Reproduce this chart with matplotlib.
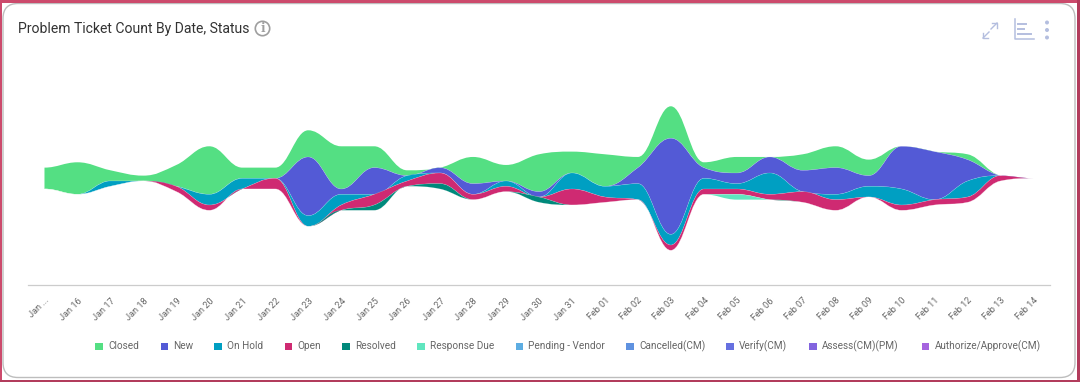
import numpy as np
import matplotlib
matplotlib.use('Agg')
from matplotlib import pyplot as plt
from matplotlib.path import Path
from matplotlib.patches import PathPatch, FancyBboxPatch, Rectangle, Circle

plt.rcParams['font.family'] = ['Roboto', 'DejaVu Sans']

days = ['Jan ...', 'Jan 16', 'Jan 17', 'Jan 18', 'Jan 19', 'Jan 20', 'Jan 21', 'Jan 22',
        'Jan 23', 'Jan 24', 'Jan 25', 'Jan 26', 'Jan 27', 'Jan 28', 'Jan 29', 'Jan 30',
        'Jan 31', 'Feb 01', 'Feb 02', 'Feb 03', 'Feb 04', 'Feb 05', 'Feb 06', 'Feb 07',
        'Feb 08', 'Feb 09', 'Feb 10', 'Feb 11', 'Feb 12', 'Feb 13', 'Feb 14']

closed = [4, 6, 2, 1, 4, 9, 2, 2, 5, 8, 4, 1, 0, 5, 3, 7, 4, 6, 2, 6, 1, 3, 0, 3, 4, 3, 0, 0, 1, 0, 0]
new = [0, 0, 0, 0, 0, 0, 0, 0, 11, 1, 5, 0, 1, 2, 0, 1, 0, 0, 3, 18, 2, 2, 3, 4, 5, 2, 8, 9, 4, 0, 0]
on_hold = [0, 0, 1, 0, 0, 2, 2, 0, 2, 2, 0, 1, 0, 0, 1, 0, 3, 2, 3, 2, 2, 1, 4, 0, 1, 2, 3, 0, 3, 0, 0]
open_ = [0, 0, 0, 0, 1, 1, 0, 2, 0, 1, 2, 1, 2, 1, 1, 0, 3, 1, 0, 1, 1, 1, 1, 2, 2, 0, 1, 1, 1, 1, 0]
resolved = [0, 0, 0, 0, 0, 0, 0, 0, 0, 0, 1, 0, 1, 0, 0, 1, 0, 0, 0, 0, 0, 0, 0, 0, 0, 0, 0, 0, 0, 0, 0]
response_due = [0, 0, 0, 0, 0, 0, 0, 0, 0, 0, 0, 0, 0, 0, 0, 0, 0, 0, 0, 0, 0, 1, 0, 0, 0, 0, 0, 0, 0, 0, 0]

series_names = ['Closed', 'New', 'On Hold', 'Open', 'Resolved', 'Response Due', 'Pending - Vendor',
                'Cancelled(CM)', 'Verify(CM)', 'Assess(CM)(PM)', 'Authorize/Approve(CM)']
series_colors = ['#54DF83', '#535AD6', '#009FC2', '#CF2A72', '#00897B', '#60E6BF', '#5DADE2',
                 '#5F92E0', '#6670E0', '#8264DF', '#A564DF']
legend_box_x = [95, 160.5, 214, 284.5, 342, 417, 515.5, 626, 726, 809, 921.5]


def spline_controls(x, y):
    # same handle rule as an areaspline, so the curve passes through each daily value
    n = len(x)
    left = np.array(y, dtype=float)
    right = np.array(y, dtype=float)
    s = 1.5
    for i in range(1, n - 1):
        lx = (s * x[i] + x[i - 1]) / (s + 1)
        rx = (s * x[i] + x[i + 1]) / (s + 1)
        ly = (s * y[i] + y[i - 1]) / (s + 1)
        ry = (s * y[i] + y[i + 1]) / (s + 1)
        corr = (ry - ly) * (rx - x[i]) / (rx - lx) + y[i] - ry
        ly += corr
        ry += corr
        if ly > y[i - 1] and ly > y[i]:
            ly = max(y[i - 1], y[i])
            ry = 2 * y[i] - ly
        elif ly < y[i - 1] and ly < y[i]:
            ly = min(y[i - 1], y[i])
            ry = 2 * y[i] - ly
        if ry > y[i + 1] and ry > y[i]:
            ry = max(y[i + 1], y[i])
            ly = 2 * y[i] - ry
        elif ry < y[i + 1] and ry < y[i]:
            ry = min(y[i + 1], y[i])
            ly = 2 * y[i] - ry
        left[i] = ly
        right[i] = ry
    return left, right


def curve_points(x, y):
    left, right = spline_controls(x, y)
    pts = []
    for i in range(len(x) - 1):
        lx = (1.5 * x[i + 1] + x[i]) / 2.5
        rx = (1.5 * x[i] + x[i + 1]) / 2.5
        pts.append((rx, right[i]))
        pts.append((lx, left[i + 1]))
        pts.append((x[i + 1], y[i + 1]))
    return pts


def band_path(x, top, bottom):
    verts = [(x[0], top[0])] + curve_points(x, top)
    codes = [Path.MOVETO] + [Path.CURVE4] * (len(verts) - 1)
    verts.append((x[-1], bottom[-1]))
    codes.append(Path.LINETO)
    back = curve_points(x[::-1], bottom[::-1])
    verts += back
    codes += [Path.CURVE4] * len(back)
    verts.append(verts[0])
    codes.append(Path.CLOSEPOLY)
    return Path(verts, codes)


def line_path(x, y):
    verts = [(x[0], y[0])] + curve_points(x, y)
    return Path(verts, [Path.MOVETO] + [Path.CURVE4] * (len(verts) - 1))


W, H = 1080, 382
fig = plt.figure(figsize=(10.8, 3.82), dpi=100, facecolor='white')

# card + crimson frame, in pixels
bg = fig.add_axes([0, 0, 1, 1], zorder=0)
bg.set_xlim(0, W)
bg.set_ylim(H, 0)
bg.axis('off')
bg.add_patch(FancyBboxPatch((3, 3.5), 1072, 374, boxstyle='round,pad=0,rounding_size=15',
                            fc='white', ec='#BDBDBD', lw=1))
bg.add_patch(Rectangle((0, 0), W, 2.7, fc='#CC4A6C', ec='none'))
bg.add_patch(Rectangle((0, 0), 2.4, H, fc='#CC4A6C', ec='none'))
bg.add_patch(Rectangle((1077, 0), 3, H, fc='#B23C5C', ec='none'))
bg.add_patch(Rectangle((0, 379.6), W, 2.4, fc='#B23C5C', ec='none'))

# title and info icon
bg.text(18, 28.5, 'Problem Ticket Count By Date, Status', fontsize=10.05, color='#333333',
        va='center', ha='left')
bg.add_patch(Circle((262.5, 28.5), 7.2, fc='white', ec='#9E9E9E', lw=1.2))
bg.text(262.5, 28.5, 'i', fontsize=8.5, color='#9E9E9E', va='center', ha='center',
        fontweight='bold', family=['DejaVu Serif'])

# top right icons
icon = '#B4BEDF'
bg.plot([983, 989], [38, 32], color=icon, lw=1)
bg.plot([983, 983, 988], [33, 38, 38], color=icon, lw=1)
bg.plot([991, 997], [29, 23], color=icon, lw=1)
bg.plot([992, 997, 997], [23, 23, 28], color=icon, lw=1)
bg.plot([1014.5, 1014.5, 1034], [19, 38.5, 38.5], color=icon, lw=1.1)
bg.plot([1018, 1026], [24, 24], color=icon, lw=1.4)
bg.plot([1018, 1024], [29, 29], color=icon, lw=1.4)
bg.plot([1018, 1031], [34, 34], color=icon, lw=1.4)
for yy in [22.5, 30, 37.5]:
    bg.add_patch(Circle((1047, yy), 2, fc=icon, ec='none'))

# legend row
for name, color, bx in zip(series_names, series_colors, legend_box_x):
    bg.add_patch(Rectangle((bx, 342.5), 7.5, 7.5, fc=color, ec='none'))
    bg.text(bx + 13, 345.8, name, fontsize=7.2, color='#666666', va='center', ha='left')

# chart area
ax = fig.add_axes([28 / W, 1 - 285 / H, 1022 / W, 213.4 / H], zorder=1)
ax.patch.set_alpha(0)
x = np.arange(len(days), dtype=float)
ax.set_xlim(-0.5, 30.5)
ax.set_ylim(-20, 20)

stack = np.array([closed, new, on_hold, open_, resolved, response_due], dtype=float)
total = stack.sum(axis=0)
top = total / 2.0
for i, (values, color) in enumerate(zip(stack, series_colors)):
    bottom = top - values
    ax.add_patch(PathPatch(band_path(x, top, bottom), fc=color, ec='none'))
    if i > 0:
        ax.add_patch(PathPatch(line_path(x, top), fc='none', ec='white', lw=0.3, alpha=0.35))
    top = bottom

for s in ['top', 'left', 'right']:
    ax.spines[s].set_visible(False)
ax.spines['bottom'].set_color('#CCCCCC')
ax.spines['bottom'].set_linewidth(0.9)
ax.set_yticks([])
ax.set_xticks(x)
ax.set_xticklabels(days, rotation=45, ha='right', va='top', rotation_mode='anchor',
                   fontsize=6.6, color='#666666')
ax.tick_params(axis='x', length=0, pad=8)

plt.savefig('out.png', dpi=100)
